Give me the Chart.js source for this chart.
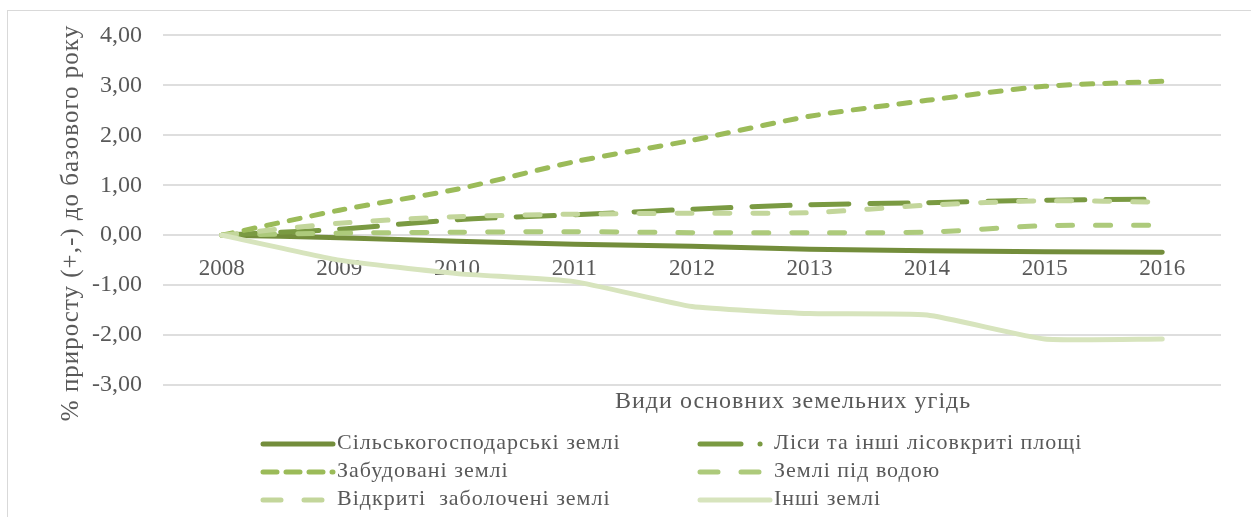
<!DOCTYPE html>
<html>
<head>
<meta charset="utf-8">
<script src="https://cdn.jsdelivr.net/npm/chart.js@4.4.1/dist/chart.umd.min.js"></script>
<style>
  html, body { margin: 0; padding: 0; background: #fff; overflow: hidden; }
  #wrap { position: relative; width: 1251px; height: 517px; }
  #frame { position: absolute; left: 7px; top: 10px; width: 1300px; height: 600px; border: 1px solid #d9d9d9; box-sizing: border-box; }
  #graph { position: absolute; left: 0; top: 0; }
</style>
</head>
<body>
<div id="wrap">
  <div id="frame"></div>
  <canvas id="graph" width="1251" height="517"></canvas>
</div>
<script>
const years = ["2008", "2009", "2010", "2011", "2012", "2013", "2014", "2015", "2016"];

const silskGosp = [0, -0.05, -0.12, -0.18, -0.22, -0.28, -0.31, -0.33, -0.34];
const lisy      = [0, 0.12, 0.31, 0.41, 0.52, 0.61, 0.65, 0.70, 0.72];
const zabudovani = [0, 0.50, 0.92, 1.47, 1.90, 2.38, 2.70, 2.98, 3.08];
const pidVodoyu = [0, 0.04, 0.06, 0.07, 0.05, 0.05, 0.06, 0.19, 0.20];
const zabolocheni = [0, 0.24, 0.37, 0.42, 0.44, 0.45, 0.60, 0.69, 0.66];
const inshi     = [0, -0.50, -0.77, -0.93, -1.43, -1.57, -1.60, -2.08, -2.08];

const seriesNames = [
  "Сільськогосподарські землі",
  "Ліси та інші лісовкриті площі",
  "Забудовані землі",
  "Землі під водою",
  "Відкриті  заболочені землі",
  "Інші землі"
];

const yTicks = [-3, -2, -1, 0, 1, 2, 3, 4];

const yTitle = "% приросту (+,-) до базового року";
const xTitle = "Види основних земельних угідь";

const serif = "'Liberation Serif', 'Times New Roman', serif";
const textColor = "#595959";

// legend + axis titles drawn on the canvas
const extrasPlugin = {
  id: "extras",
  afterDraw(chart) {
    const ctx = chart.ctx;
    ctx.save();
    ctx.fillStyle = textColor;
    ctx.letterSpacing = "1px";
    ctx.font = "24px " + serif;
    ctx.textBaseline = "alphabetic";
    ctx.textAlign = "left";
    ctx.fillText(xTitle, 615, 408);

    ctx.save();
    ctx.translate(78, 223);
    ctx.rotate(-Math.PI / 2);
    ctx.textAlign = "center";
    ctx.font = "25px " + serif;
    ctx.fillText(yTitle, 0, 0);
    ctx.restore();

    const cols = [260, 697];
    const rows = [444, 472, 500];
    chart.data.datasets.forEach((ds, i) => {
      const x0 = cols[i % 2];
      const y = rows[Math.floor(i / 2)];
      ctx.save();
      ctx.strokeStyle = ds.borderColor;
      ctx.lineWidth = ds.borderWidth;
      ctx.lineCap = "round";
      ctx.setLineDash(ds.legendDash || []);
      ctx.beginPath();
      ctx.moveTo(x0 + 3, y);
      ctx.lineTo(x0 + 73, y);
      ctx.stroke();
      ctx.restore();
      ctx.fillStyle = textColor;
      ctx.font = "22px " + serif;
      ctx.textAlign = "left";
      ctx.fillText(ds.label, x0 + 77, y + 4.5);
    });
    ctx.restore();
  }
};

function makeSet(i, data, color, dash, legendDash, tension) {
  return {
    label: seriesNames[i],
    data: data,
    borderColor: color,
    backgroundColor: color,
    borderWidth: 5,
    borderDash: dash,
    borderCapStyle: "round",
    borderJoinStyle: "round",
    legendDash: legendDash,
    pointRadius: 0,
    tension: tension,
    fill: false,
    order: 10 - i
  };
}

new Chart(document.getElementById("graph"), {
  type: "line",
  data: {
    labels: years,
    datasets: [
      makeSet(0, silskGosp, "#738d3b", [], [], 0.25),
      makeSet(1, lisy, "#7a9a42", [38, 21], [41, 19, 0.1, 30], 0.25),
      makeSet(2, zabudovani, "#9bbb59", [11, 12], [14, 9], 0.25),
      makeSet(3, pidVodoyu, "#adca7b", [15, 23], [18, 23], 0.25),
      makeSet(4, zabolocheni, "#c3d69b", [15, 23], [18, 23], 0.25),
      makeSet(5, inshi, "#d7e4bd", [], [], 0.15)
    ]
  },
  options: {
    responsive: false,
    animation: false,
    layout: { padding: { left: 0, right: 30, top: 28, bottom: 132 } },
    plugins: {
      legend: { display: false },
      tooltip: { enabled: false }
    },
    scales: {
      x: {
        position: { y: 0 },
        offset: true,
        grid: { display: false },
        border: { display: false },
        ticks: {
          color: textColor,
          padding: 12,
          maxRotation: 0,
          autoSkip: false,
          font: { family: serif, size: 23 }
        }
      },
      y: {
        min: -3,
        max: 4,
        afterFit: (scale) => { scale.width = 163; },
        afterBuildTicks: (scale) => { scale.ticks = yTicks.map(v => ({ value: v })); },
        grid: { color: "#dedede", lineWidth: 2, drawTicks: false },
        border: { display: false },
        ticks: {
          color: textColor,
          padding: 21,
          font: { family: serif, size: 24 },
          callback: (v) => v.toFixed(2).replace(".", ",")
        }
      }
    }
  },
  plugins: [extrasPlugin]
});
</script>
</body>
</html>
